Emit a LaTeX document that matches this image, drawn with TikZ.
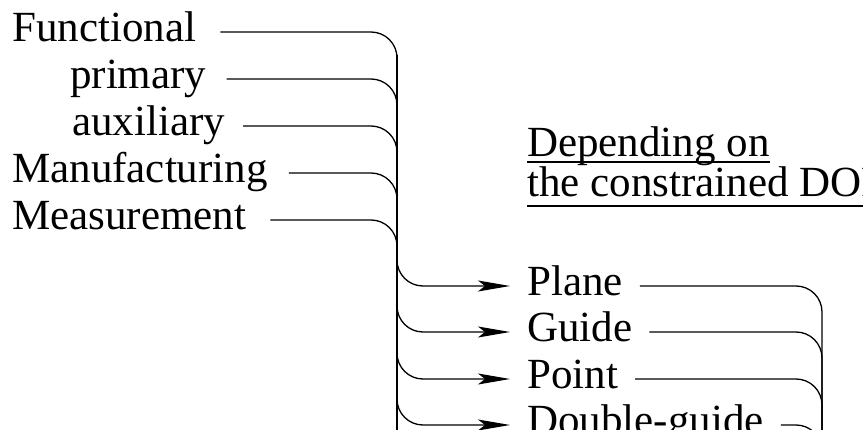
\documentclass[tikz,border=0pt]{standalone}
\usepackage{fontspec}
\setmainfont{Liberation Serif}
\usepackage{tikz}
\usetikzlibrary{arrows.meta}
\newcommand{\ulin}[2][9pt]{\setbox0\hbox{#2}\rlap{\rule[-#1]{\wd0}{1.6pt}}\box0}
\tikzset{>={Stealth[length=32pt, width=11pt, inset=7pt]}}
\tikzstyle{lbl} = [anchor=mid west, inner sep=0pt, font=\fontsize{43}{47}\selectfont]
\tikzstyle{kind} = [anchor=mid west, inner xsep=17pt, inner ysep=0pt, font=\fontsize{43}{47}\selectfont]
\tikzstyle{branch} = [-, draw=black, line width=1.3pt, rounded corners=26pt]

\begin{document}
\fontsize{43}{47}\selectfont
\begin{tikzpicture}[x=1pt, y=-1pt]
 \path [use as bounding box, clip] (0, 0) rectangle (863, 430);
 \node [lbl] (F) at (12, 32) {Functional};
 \node [lbl] (Pr) at (70, 79) {primary};
 \node [lbl] (Ax) at (72, 126) {auxiliary};
 \node [lbl] (Mf) at (12, 173) {Manufacturing};
 \node [lbl] (Ms) at (12, 220) {Measurement};
 \node [lbl, anchor=base west] (D1) at (527, 157) {\ulin[6pt]{Depending on}};
 \node [lbl, anchor=base west] (D2) at (527, 197) {\ulin[10pt]{the constrained DOF}};
 \node [kind] (Pl) at (510, 286) {Plane};
 \node [kind] (Gd) at (510, 332) {Guide};
 \node [kind] (Pt) at (510, 379) {Point};
 \node [kind] (Dg) at (510, 425) {Double-guide};
 \coordinate (T) at (397, 55);
 \coordinate (B) at (397, 460);
 \coordinate (R) at (822, 460);
 \draw [branch, shorten <=24pt] (F.mid east) -| (B);
 \draw [branch, shorten <=20pt] (Pr.mid east) -| (B);
 \draw [branch, shorten <=18pt] (Ax.mid east) -| (B);
 \draw [branch, shorten <=21pt] (Mf.mid east) -| (B);
 \draw [branch, shorten <=24pt] (Ms.mid east) -| (B);
 \draw [branch, ->] (T) |- (Pl.mid west);
 \draw [branch, ->] (T) |- (Gd.mid west);
 \draw [branch, ->] (T) |- (Pt.mid west);
 \draw [branch, ->] (T) |- (Dg.mid west);
 \draw [branch] (Pl.mid east) -| (R);
 \draw [branch] (Gd.mid east) -| (R);
 \draw [branch] (Pt.mid east) -| (R);
 \draw [branch] (Dg.mid east) -| (R);
\end{tikzpicture}
\end{document}
